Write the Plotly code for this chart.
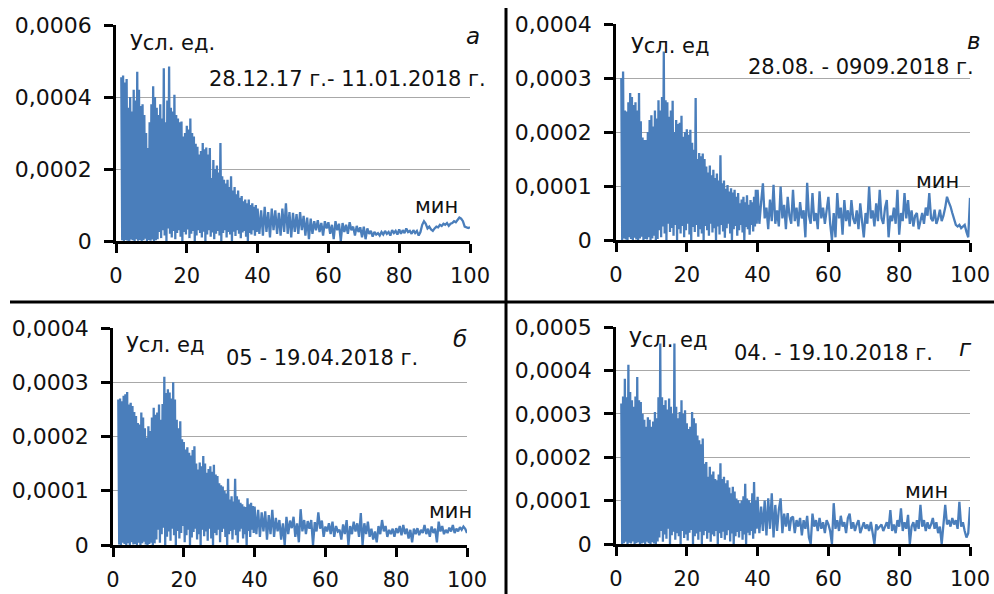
import plotly.graph_objects as go

# ---------------- DATA (values in 1e-6 усл. ед.) ----------------
# dense part: peaks (hi) at x = 1.5, 2.0, ... 39.5 ; troughs (lo) at x = 1.75, 2.25, ... 39.75
# tail part: values at x = 40.0, 40.5, ... 100.0

a_hi = [455, 460, 440, 450, 370, 400, 360, 420, 390, 470,
        420, 375, 380, 350, 300, 258, 330, 380, 430, 400,
        370, 350, 380, 340, 480, 330, 390, 485, 370, 360,
        406, 350, 340, 330, 332, 290, 300, 320, 310, 340,
        300, 290, 270, 262, 240, 250, 272, 255, 260, 240,
        258, 175, 225, 200, 210, 190, 272, 180, 170, 160,
        170, 150, 180, 140, 150, 130, 140, 120, 125, 110,
        115, 105, 115, 100, 105, 95, 100]
a_lo = [2, 0, 3, 1, 0, 4, 2, 0, 5, 1, 3, 0, 2, 6, 0, 3, 1, 4, 0, 2, 5,
        25, 8, 30, 15, 0, 35, 20, 10, 28, 5, 22, 30, 12, 0, 25, 18, 32, 8, 20, 28,
        0, 15, 30, 22, 10, 26, 0, 18, 30, 12, 24, 5, 20, 28, 15, 0, 22, 30, 10, 25,
        18, 0, 26, 14, 30, 20, 8, 24, 28, 12, 0, 22, 18, 30, 15, 25]
a_tail = [90, 20, 85, 15, 95, 25, 80, 10, 90, 30, 85, 20, 78, 15, 90, 25, 105, 20, 80, 10,
          78, 25, 75, 20, 80, 30, 70, 15, 65, 5, 62, 20, 55, 30, 58, 25, 50, 15, 55, 35,
          52, 20, 45, 5, 55, 30, 48, 0, 50, 25, 45, 20, 52, 30, 40, 15, 42, 25, 38, 10,
          40, 5, 35, 20, 28, 12, 25, 18, 22, 15, 25, 18, 28, 20, 25, 15, 30, 22, 28, 18,
          32, 20, 30, 22, 35, 25, 28, 20, 30, 22, 28, 15, 25, 45, 55, 48, 35, 40, 32, 28,
          35, 40, 38, 45, 42, 48, 45, 50, 42, 48, 50, 55, 52, 60, 65, 62, 55, 40, 38, 36, 38]

v_hi = [300, 312, 240, 238, 255, 272, 265, 250, 255, 240,
        272, 220, 190, 185, 185, 200, 222, 231, 210, 240,
        225, 259, 240, 265, 349, 259, 255, 228, 240, 258,
        200, 222, 215, 217, 230, 191, 200, 205, 195, 204,
        180, 167, 263, 150, 161, 155, 160, 150, 136, 125,
        138, 120, 130, 115, 123, 110, 157, 105, 110, 95,
        102, 90, 96, 88, 93, 80, 87, 68, 75, 80,
        70, 83, 65, 74, 70, 80, 93]
v_lo = [0, 3, 1, 0, 5, 2, 0, 4, 1, 0, 3, 6, 0, 2, 1, 5, 0, 3, 8, 0, 2,
        18, 5, 25, 12, 0, 30, 15, 22, 8, 28, 0, 20, 12, 26, 5, 18, 30, 10, 0, 24,
        15, 28, 6, 20, 12, 0, 26, 18, 8, 30, 14, 22, 0, 25, 10, 28, 16, 4, 22, 30,
        12, 0, 20, 26, 8, 18, 28, 14, 0, 24, 20, 10, 28, 16, 25, 30]
v_tail = [93, 30, 70, 105, 40, 60, 20, 75, 35, 102, 30, 55, 25, 99, 40, 65, 20, 80, 45, 30,
          93, 35, 60, 25, 70, 40, 55, 5, 106, 45, 30, 87, 35, 50, 20, 90, 40, 60, 30, 55,
          80, 30, 0, 50, 5, 87, 40, 60, 10, 74, 35, 55, 25, 74, 40, 30, 55, 20, 68, 35,
          5, 50, 30, 99, 40, 55, 25, 68, 35, 93, 40, 30, 60, 74, 5, 45, 35, 60, 30, 93,
          10, 50, 35, 87, 40, 74, 30, 55, 25, 45, 50, 20, 35, 50, 30, 60, 45, 87, 40, 35,
          56, 30, 40, 56, 35, 45, 60, 80, 70, 62, 50, 37, 28, 25, 28, 22, 25, 28, 15, 5, 78]

b_hi = [268, 270, 265, 275, 278, 282, 259, 262, 256, 245,
        238, 225, 222, 244, 235, 215, 198, 219, 210, 235,
        253, 240, 244, 259, 231, 260, 310, 280, 287, 281,
        270, 300, 268, 231, 215, 228, 195, 190, 176, 180,
        170, 165, 175, 182, 150, 139, 152, 145, 164, 150,
        133, 140, 145, 135, 148, 130, 127, 114, 110, 108,
        100, 95, 122, 84, 90, 80, 122, 90, 84, 78,
        75, 71, 70, 86, 75, 78, 72]
b_lo = [1, 0, 4, 2, 0, 3, 0, 5, 1, 2, 0, 4, 0, 3, 6, 1, 0, 2, 4, 0, 3,
        10, 28, 4, 20, 32, 0, 15, 25, 8, 30, 18, 0, 26, 12, 22, 35, 5, 18, 28, 0,
        14, 24, 30, 10, 20, 0, 28, 16, 25, 8, 30, 12, 0, 22, 18, 28, 5, 24, 30, 15,
        0, 20, 26, 10, 28, 18, 4, 25, 30, 12, 20, 0, 26, 15, 28, 22]
b_tail = [71, 20, 65, 15, 60, 25, 62, 10, 55, 20, 65, 15, 50, 25, 46, 10, 40, 0, 52, 20,
          45, 31, 52, 15, 40, 5, 66, 25, 46, 20, 44, 30, 46, 0, 42, 25, 60, 30, 45, 15,
          34, 25, 40, 20, 43, 15, 35, 25, 28, 10, 38, 20, 46, 0, 35, 20, 43, 25, 40, 15,
          59, 0, 40, 20, 43, 15, 30, 10, 25, 5, 35, 20, 46, 25, 35, 15, 28, 20, 30, 15,
          31, 22, 35, 18, 37, 20, 30, 12, 28, 5, 30, 20, 31, 18, 28, 22, 37, 20, 30, 15,
          34, 22, 30, 5, 43, 25, 35, 20, 28, 22, 32, 25, 37, 22, 30, 25, 33, 28, 34, 30, 22]

g_hi = [324, 340, 381, 338, 413, 350, 331, 316, 340, 385,
        331, 327, 300, 286, 270, 292, 286, 270, 282, 304,
        290, 338, 462, 338, 320, 331, 310, 335, 316, 300,
        462, 316, 290, 304, 331, 300, 308, 278, 265, 270,
        304, 290, 278, 250, 239, 230, 243, 185, 189, 155,
        178, 160, 167, 150, 147, 160, 186, 150, 155, 140,
        147, 130, 117, 132, 121, 105, 101, 94, 100, 110,
        139, 105, 101, 95, 117, 143, 100]
g_lo = [0, 2, 5, 0, 3, 1, 6, 0, 2, 4, 0, 1, 3, 0, 5, 2, 0, 4, 1, 0, 6,
        15, 30, 5, 22, 12, 35, 0, 20, 28, 10, 25, 18, 0, 30, 14, 22, 8, 26, 32, 0,
        18, 24, 10, 28, 0, 20, 30, 12, 26, 5, 22, 18, 30, 0, 25, 14, 28, 10, 20, 32,
        6, 24, 0, 18, 28, 15, 30, 10, 22, 0, 26, 20, 30, 12, 24, 35]
g_tail = [109, 25, 86, 30, 100, 20, 105, 35, 117, 15, 90, 30, 80, 105, 25, 70, 40, 71, 30, 60,
          63, 25, 55, 40, 60, 20, 55, 35, 65, 15, 0, 70, 40, 55, 30, 60, 35, 50, 25, 55,
          45, 30, 0, 94, 35, 55, 30, 65, 40, 50, 25, 60, 70, 35, 50, 30, 45, 55, 25, 40,
          50, 35, 45, 30, 51, 25, 0, 45, 35, 40, 45, 30, 40, 50, 35, 78, 30, 45, 25, 55,
          40, 82, 30, 50, 35, 67, 0, 40, 50, 30, 55, 35, 90, 40, 55, 30, 50, 35, 45, 60,
          35, 50, 25, 40, 0, 50, 90, 45, 55, 40, 60, 45, 55, 35, 97, 40, 50, 30, 15, 25, 85]

x_ticks = [0, 20, 40, 60, 80, 100]
y_ticks_a = [0, 0.0002, 0.0004, 0.0006]
y_text_a = ["0", "0,0002", "0,0004", "0,0006"]
y_ticks_4 = [0, 0.0001, 0.0002, 0.0003, 0.0004]
y_text_4 = ["0", "0,0001", "0,0002", "0,0003", "0,0004"]
y_ticks_5 = [0, 0.0001, 0.0002, 0.0003, 0.0004, 0.0005]
y_text_5 = ["0", "0,0001", "0,0002", "0,0003", "0,0004", "0,0005"]

dates = ["28.12.17 г.- 11.01.2018 г.", "28.08. - 0909.2018 г.",
         "05 - 19.04.2018 г.", "04. - 19.10.2018 г."]
letters = ["а", "в", "б", "г"]
unit_labels = ["Усл. ед.", "Усл. ед", "Усл. ед", "Усл. ед"]


def build(hi, lo, tail):
    ys = []
    for h, l in zip(hi, lo):
        ys += [h, l]
    xs = [1.5 + 0.25 * i for i in range(len(ys))]
    xt = [40 + 0.5 * i for i in range(len(tail))]
    return xs + xt, [v * 1e-6 for v in ys + tail]


W, H = 994, 594
FONT = "DejaVu Sans"
BLUE = "#4a7ebb"
TXT = "#111111"

# panel layout in pixels: (x0, x1, ytop, ybottom)
panels = [
    dict(data=(a_hi, a_lo, a_tail), px=(116, 470), py=(25, 241), ymax=0.0006, tv=y_ticks_a, tt=y_text_a),
    dict(data=(v_hi, v_lo, v_tail), px=(616, 970), py=(24, 240), ymax=0.0004, tv=y_ticks_4, tt=y_text_4),
    dict(data=(b_hi, b_lo, b_tail), px=(113, 467), py=(328, 545), ymax=0.0004, tv=y_ticks_4, tt=y_text_4),
    dict(data=(g_hi, g_lo, g_tail), px=(616, 970), py=(327, 544), ymax=0.0005, tv=y_ticks_5, tt=y_text_5),
]

fig = go.Figure()
layout = dict(width=W, height=H, margin=dict(l=0, r=0, t=0, b=0, autoexpand=False),
              template="none",
              paper_bgcolor="white", plot_bgcolor="white", showlegend=False,
              font=dict(family=FONT, size=21, color=TXT))

for i, p in enumerate(panels):
    n = "" if i == 0 else str(i + 1)
    xs, ys = build(*p["data"])
    fig.add_trace(go.Scatter(x=xs, y=ys, mode="lines", line=dict(color=BLUE, width=2.3),
                             xaxis="x" + n, yaxis="y" + n, hoverinfo="skip"))
    layout["xaxis" + n] = dict(
        domain=[p["px"][0] / W, p["px"][1] / W], range=[0, 100], anchor="y" + n,
        tickvals=x_ticks, ticks="outside", ticklen=9, tickwidth=2.5, tickcolor="black",
        showline=True, linecolor="black", linewidth=2.5, showgrid=False, zeroline=False,
        automargin=False, ticklabelstandoff=5,
        tickfont=dict(family=FONT, size=21, color=TXT))
    layout["yaxis" + n] = dict(
        domain=[1 - p["py"][1] / H, 1 - p["py"][0] / H], range=[0, p["ymax"]], anchor="x" + n,
        tickvals=p["tv"], ticktext=p["tt"], ticks="outside", ticklen=9, tickwidth=2.5,
        tickcolor="black", showline=True, linecolor="black", linewidth=2.5,
        showgrid=True, gridcolor="#a8a8a8", gridwidth=1, zeroline=False,
        automargin=False, ticklabelstandoff=8,
        tickfont=dict(family=FONT, size=22, color=TXT))

fig.update_layout(**layout)


def ann(text, px, py, size=21, italic=False):
    fig.add_annotation(text=text, x=px / W, y=1 - py / H, xref="paper", yref="paper",
                       showarrow=False, xanchor="center", yanchor="middle",
                       font=dict(family=FONT, size=size, color=TXT,
                                 style="italic" if italic else "normal"))


unit_pos = [(172, 43), (670, 46), (165, 345), (668, 340)]
date_pos = [(347, 79), (861, 67), (322, 358), (833, 353)]
let_pos = [(473, 36), (974, 41), (460, 339), (965, 348)]
min_pos = [(436, 206), (937, 181), (450, 511), (926, 491)]
for i in range(4):
    ann(unit_labels[i], *unit_pos[i])
    ann(dates[i], *date_pos[i])
    ann(letters[i], *let_pos[i], size=23, italic=True)
    ann("мин", *min_pos[i])

# divider lines
fig.add_shape(type="line", xref="paper", yref="paper", x0=506 / W, x1=506 / W,
              y0=0, y1=1 - 8 / H, line=dict(color="black", width=3))
fig.add_shape(type="line", xref="paper", yref="paper", x0=10 / W, x1=1,
              y0=1 - 302 / H, y1=1 - 302 / H, line=dict(color="black", width=3))

fig.write_html("out.html", config={"displayModeBar": False})
